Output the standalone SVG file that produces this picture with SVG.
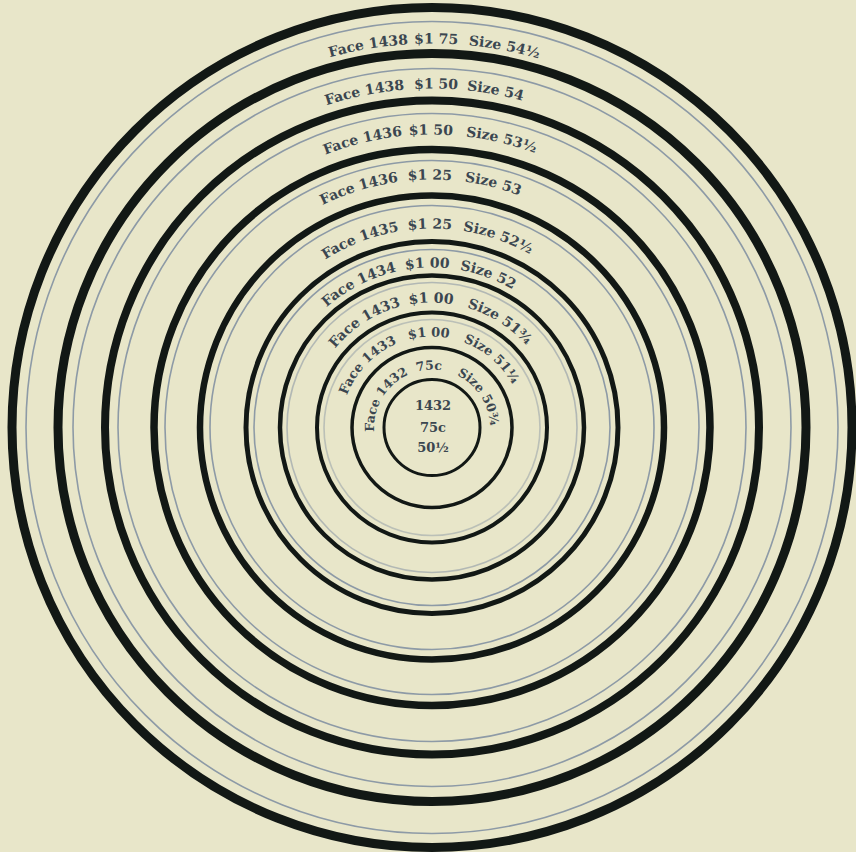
<svg xmlns="http://www.w3.org/2000/svg" xmlns:xlink="http://www.w3.org/1999/xlink" width="856" height="852" viewBox="0 0 856 852">
<style>
.blk{fill:none;stroke:#121815}
.gry{fill:none;stroke:#8d9aa6;stroke-width:1.6}
.lbl{font-family:"DejaVu Serif","Liberation Serif",serif;font-weight:bold;font-size:14px;fill:#3b4650;text-anchor:middle}
.sm{font-size:13px}
.xs{font-size:12.5px}
</style>
<defs>
<path id="p1" d="M432 811.5 A384 384 0 0 1 432 43.5 A384 384 0 0 1 432 811.5"/>
<path id="p2" d="M432 766.5 A339 339 0 0 1 432 88.5 A339 339 0 0 1 432 766.5"/>
<path id="p3" d="M432 720.5 A293 293 0 0 1 432 134.5 A293 293 0 0 1 432 720.5"/>
<path id="p4" d="M432 675.5 A248 248 0 0 1 432 179.5 A248 248 0 0 1 432 675.5"/>
<path id="p5" d="M432 626.5 A199 199 0 0 1 432 228.5 A199 199 0 0 1 432 626.5"/>
<path id="p6" d="M432 587.5 A160 160 0 0 1 432 267.5 A160 160 0 0 1 432 587.5"/>
<path id="p7" d="M432 552.5 A125 125 0 0 1 432 302.5 A125 125 0 0 1 432 552.5"/>
<path id="p8" d="M432 518.5 A91 91 0 0 1 432 336.5 A91 91 0 0 1 432 518.5"/>
<path id="p9" d="M432 485.5 A58 58 0 0 1 432 369.5 A58 58 0 0 1 432 485.5"/>
</defs>
<rect width="856" height="852" fill="#e8e6c9"/>
<g id="rings">
<circle class="blk" cx="432" cy="427.5" r="420" stroke-width="9"/>
<circle class="gry" cx="432" cy="427.5" r="406"/>
<circle class="blk" cx="432" cy="427.5" r="374" stroke-width="9"/>
<circle class="gry" cx="432" cy="427.5" r="359"/>
<circle class="blk" cx="432" cy="427.5" r="327" stroke-width="8"/>
<circle class="gry" cx="432" cy="427.5" r="314"/>
<circle class="blk" cx="432" cy="427.5" r="278" stroke-width="7.5"/>
<circle class="gry" cx="432" cy="427.5" r="267"/>
<circle class="blk" cx="432" cy="427.5" r="232" stroke-width="6.5"/>
<circle class="gry" cx="432" cy="427.5" r="222"/>
<circle class="blk" cx="432" cy="427.5" r="186" stroke-width="5"/>
<circle class="gry" cx="432" cy="427.5" r="178" stroke-width="1.2"/>
<circle class="blk" cx="432" cy="427.5" r="152" stroke-width="4.5"/>
<circle class="gry" cx="432" cy="427.5" r="145" stroke-width="1" opacity="0.6"/>
<circle class="blk" cx="432" cy="427.5" r="115" stroke-width="4"/>
<circle class="gry" cx="432" cy="427.5" r="108" stroke-width="1" opacity="0.5"/>
<circle class="blk" cx="432" cy="427.5" r="80" stroke-width="3.5"/>
<circle class="blk" cx="432" cy="427.5" r="48" stroke-width="3"/>
</g>
<g id="ring1"><text class="lbl"><textPath href="#p1" startOffset="47.36%">Face 1438</textPath></text><text class="lbl"><textPath href="#p1" startOffset="50.17%">$1 75</textPath></text><text class="lbl"><textPath href="#p1" startOffset="53%">Size 54½</textPath></text></g>
<g id="ring2"><text class="lbl"><textPath href="#p2" startOffset="46.83%">Face 1438</textPath></text><text class="lbl"><textPath href="#p2" startOffset="50.19%">$1 50</textPath></text><text class="lbl"><textPath href="#p2" startOffset="52.97%">Size 54</textPath></text></g>
<g id="ring3"><text class="lbl"><textPath href="#p3" startOffset="46.22%">Face 1436</textPath></text><text class="lbl"><textPath href="#p3" startOffset="49.94%">$1 50</textPath></text><text class="lbl"><textPath href="#p3" startOffset="53.78%">Size 53½</textPath></text></g>
<g id="ring4"><text class="lbl"><textPath href="#p4" startOffset="45.28%">Face 1436</textPath></text><text class="lbl"><textPath href="#p4" startOffset="49.86%">$1 25</textPath></text><text class="lbl"><textPath href="#p4" startOffset="53.92%">Size 53</textPath></text></g>
<g id="ring5"><text class="lbl"><textPath href="#p5" startOffset="44.17%">Face 1435</textPath></text><text class="lbl"><textPath href="#p5" startOffset="49.83%">$1 25</textPath></text><text class="lbl"><textPath href="#p5" startOffset="55.33%">Size 52½</textPath></text></g>
<g id="ring6"><text class="lbl"><textPath href="#p6" startOffset="42.5%">Face 1434</textPath></text><text class="lbl"><textPath href="#p6" startOffset="49.53%">$1 00</textPath></text><text class="lbl"><textPath href="#p6" startOffset="55.61%">Size 52</textPath></text></g>
<g id="ring7"><text class="lbl"><textPath href="#p7" startOffset="40.94%">Face 1433</textPath></text><text class="lbl"><textPath href="#p7" startOffset="49.89%">$1 00</textPath></text><text class="lbl"><textPath href="#p7" startOffset="59.06%">Size 51¾</textPath></text></g>
<g id="ring8"><text class="lbl sm"><textPath href="#p8" startOffset="37.22%">Face 1433</textPath></text><text class="lbl sm"><textPath href="#p8" startOffset="49.44%">$1 00</textPath></text><text class="lbl sm"><textPath href="#p8" startOffset="61.39%">Size 51¼</textPath></text></g>
<g id="ring9"><text class="lbl xs"><textPath href="#p9" startOffset="33.6%">Face 1432</textPath></text><text class="lbl xs"><textPath href="#p9" startOffset="49.2%">75c</textPath></text><text class="lbl xs"><textPath href="#p9" startOffset="65.8%">Size 50¾</textPath></text></g>
<g id="center"><text class="lbl sm" x="433" y="410">1432</text><text class="lbl sm" x="433" y="432">75c</text><text class="lbl sm" x="433" y="452">50½</text></g>
</svg>
